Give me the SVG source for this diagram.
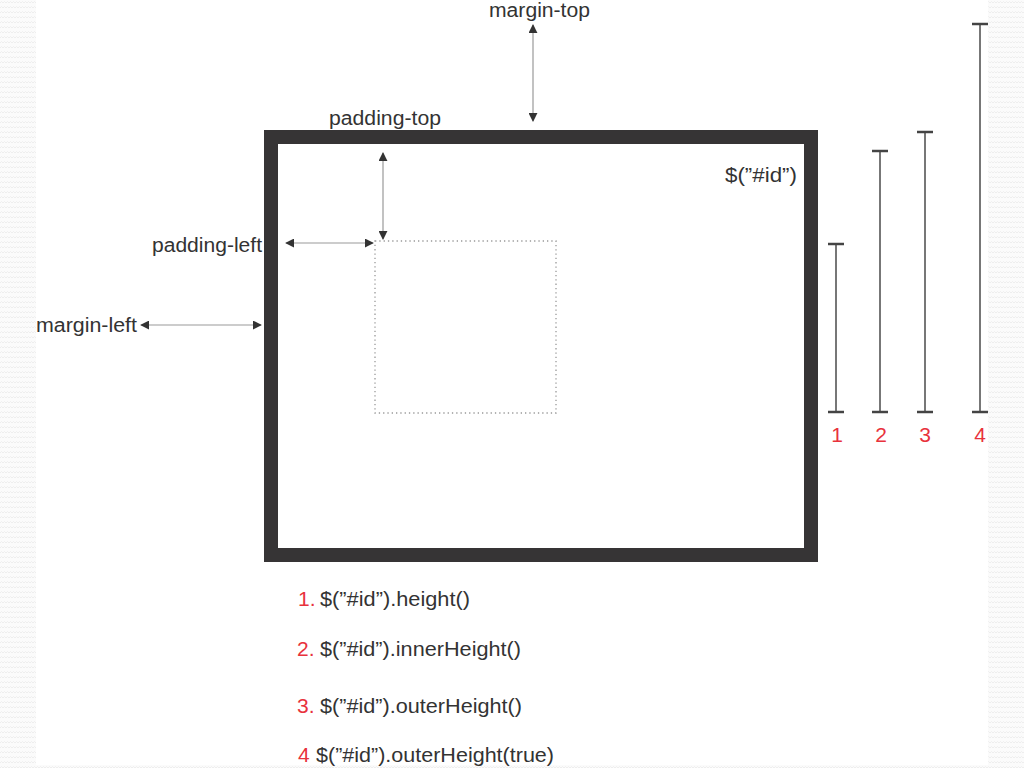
<svg xmlns="http://www.w3.org/2000/svg" width="1024" height="768" viewBox="0 0 1024 768">
<defs>
<style>
.lbl{font-family:"Liberation Sans",Arial,sans-serif;font-size:20px;fill:#333}
.num{font-family:"Liberation Sans",Arial,sans-serif;font-size:21px;fill:#e8323c}
.code{font-family:"Liberation Sans",Arial,sans-serif;font-size:20.5px;fill:#333}
.dim{stroke:#999;stroke-width:1.2;fill:none;marker-start:url(#ah);marker-end:url(#ah)}
.bar{stroke:#777;stroke-width:2;fill:none}
.tick{stroke:#444;stroke-width:2.5;fill:none}
</style>
<marker id="ah" viewBox="0 0 10 10" refX="9" refY="5" markerWidth="9" markerHeight="9" markerUnits="userSpaceOnUse" orient="auto-start-reverse">
<path d="M0,0 L10,5 L0,10 z" fill="#333"/>
</marker>
<pattern id="zz" width="6" height="5" patternUnits="userSpaceOnUse">
<rect width="6" height="5" fill="#fbfbfb"/>
<path d="M0,3 L1.5,1.5 L3,3 L4.5,1.5 L6,3" stroke="#eeeeee" stroke-width="1" fill="none"/>
</pattern>
</defs>
<rect width="1024" height="768" fill="#ffffff"/>
<rect x="0" y="0" width="36" height="768" fill="url(#zz)"/>
<rect x="988" y="0" width="36" height="768" fill="url(#zz)"/>
<rect x="0" y="765" width="1024" height="3" fill="url(#zz)"/>

<g id="box">
<rect x="271" y="137" width="540" height="418" fill="#ffffff" stroke="#363435" stroke-width="14"/>
<text class="lbl" x="797" y="182" text-anchor="end" textLength="72" lengthAdjust="spacingAndGlyphs">$(”#id”)</text>
</g>
<g id="content">
<rect x="375" y="241" width="181" height="172" fill="none" stroke="#999" stroke-width="1.3" stroke-dasharray="1.3,3"/>
</g>

<g id="labels">
<text class="lbl" x="489" y="17" textLength="101" lengthAdjust="spacingAndGlyphs">margin-top</text>
<text class="lbl" x="329" y="125" textLength="112" lengthAdjust="spacingAndGlyphs">padding-top</text>
<text class="lbl" x="152" y="252" textLength="110" lengthAdjust="spacingAndGlyphs">padding-left</text>
<text class="lbl" x="36" y="332" textLength="101" lengthAdjust="spacingAndGlyphs">margin-left</text>
</g>

<g id="connectors">
<line class="dim" x1="533" y1="25" x2="533" y2="121"/>
<line class="dim" x1="383" y1="153" x2="383" y2="239"/>
<line class="dim" x1="286" y1="243" x2="373" y2="243"/>
<line class="dim" x1="141" y1="325" x2="261" y2="325"/>
</g>

<g id="bar1">
<line class="bar" x1="836" y1="244" x2="836" y2="412"/>
<line class="tick" x1="828" y1="244" x2="844" y2="244"/>
<line class="tick" x1="828" y1="412" x2="844" y2="412"/>
<text class="num" x="837" y="442" text-anchor="middle">1</text>
</g>
<g id="bar2">
<line class="bar" x1="880" y1="151" x2="880" y2="412"/>
<line class="tick" x1="872" y1="151" x2="888" y2="151"/>
<line class="tick" x1="872" y1="412" x2="888" y2="412"/>
<text class="num" x="881" y="442" text-anchor="middle">2</text>
</g>
<g id="bar3">
<line class="bar" x1="925" y1="132" x2="925" y2="412"/>
<line class="tick" x1="917" y1="132" x2="933" y2="132"/>
<line class="tick" x1="917" y1="412" x2="933" y2="412"/>
<text class="num" x="925" y="442" text-anchor="middle">3</text>
</g>
<g id="bar4">
<line class="bar" x1="980" y1="24" x2="980" y2="412"/>
<line class="tick" x1="972" y1="24" x2="988" y2="24"/>
<line class="tick" x1="972" y1="412" x2="988" y2="412"/>
<text class="num" x="980" y="442" text-anchor="middle">4</text>
</g>

<g id="legend">
<text class="num" x="298" y="606">1.</text>
<text class="code" x="320" y="606" textLength="150" lengthAdjust="spacingAndGlyphs">$(”#id”).height()</text>
<text class="num" x="297" y="656">2.</text>
<text class="code" x="320" y="656" textLength="201" lengthAdjust="spacingAndGlyphs">$(”#id”).innerHeight()</text>
<text class="num" x="297" y="713">3.</text>
<text class="code" x="320" y="713" textLength="202" lengthAdjust="spacingAndGlyphs">$(”#id”).outerHeight()</text>
<text class="num" x="298" y="762">4</text>
<text class="code" x="316" y="762" textLength="238" lengthAdjust="spacingAndGlyphs">$(”#id”).outerHeight(true)</text>
</g>
</svg>
